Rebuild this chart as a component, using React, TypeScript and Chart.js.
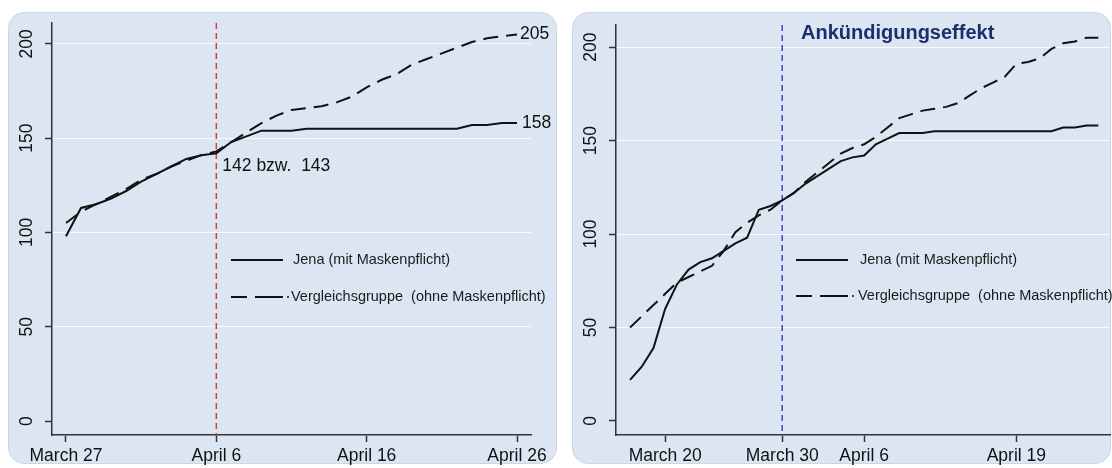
import React, { useEffect, useRef } from "react";
import { Chart, registerables } from "chart.js";

Chart.register(...registerables);

// Jena (mit Maskenpflicht), daily values March 17 .. April 26
const jena = [22, 29, 39, 60, 73, 81, 85, 87, 91, 95, 98, 113, 115, 118, 122, 127, 131, 135, 139, 141, 142, 148, 151, 154, 154, 154, 155, 155, 155, 155, 155, 155, 155, 155, 155, 155, 155, 157, 157, 158, 158];
// Vergleichsgruppe, left panel (March 27 .. April 26)
const groupLeft = [105, 111, 115, 119, 123, 128, 131, 135, 138, 141, 143, 148, 153, 158, 162, 165, 166, 167, 169, 172, 177, 181, 184, 189, 192, 195, 198, 201, 203, 204, 205];
// Vergleichsgruppe, right panel (March 17 .. April 26)
const groupRight = [50, 56, 62, 68, 74, 77, 80, 83, 91, 101, 106, 110, 113, 118, 122, 128, 133, 138, 143, 146, 148, 152, 157, 162, 164, 166, 167, 168, 170, 174, 178, 181, 184, 191, 192, 194, 199, 202, 203, 205, 205];

const leftStartIndex = 10; // March 27 within jena
const leftTickDays = [0, 10, 20, 30];
const leftTickLabels = ["March 27", "April 6", "April 16", "April 26"];
const rightTickDays = [3, 13, 20, 33];
const rightTickLabels = ["March 20", "March 30", "April 6", "April 19"];
const yTicks = [0, 50, 100, 150, 200];
const legendLabels = ["Jena (mit Maskenpflicht)", "Vergleichsgruppe  (ohne Maskenpflicht)"];
const leftNote = "142 bzw.  143";
const leftNoteValue = 135;
const rightTitle = "Ankündigungseffekt";
const leftEventDay = 10;
const rightEventDay = 13;

const FONT = '"Liberation Sans", Arial, Helvetica, sans-serif';
const INK = "#111111";
const AXIS = "#333333";

type PanelOpts = {
  solid: number[];
  dashed: number[];
  xMin: number;
  xMax: number;
  yMin: number;
  yMax: number;
  tickDays: number[];
  tickLabels: string[];
  eventDay: number;
  eventColor: string;
  padding: { top: number; right: number };
  extra: (chart: any) => void;
};

function drawLegend(ctx: CanvasRenderingContext2D, x0: number, x1: number, ySolid: number, yDash: number, textX: number) {
  ctx.save();
  ctx.strokeStyle = INK;
  ctx.lineWidth = 2;
  ctx.beginPath();
  ctx.moveTo(x0, ySolid);
  ctx.lineTo(x1, ySolid);
  ctx.stroke();
  ctx.beginPath();
  ctx.moveTo(x0, yDash);
  ctx.lineTo(x0 + 16, yDash);
  ctx.moveTo(x0 + 24, yDash);
  ctx.lineTo(x1, yDash);
  ctx.stroke();
  ctx.lineWidth = 1.5;
  ctx.beginPath();
  ctx.moveTo(x1 + 4, yDash);
  ctx.lineTo(x1 + 6, yDash);
  ctx.stroke();
  ctx.fillStyle = "#1a1a1a";
  ctx.font = `14.5px ${FONT}`;
  ctx.textAlign = "left";
  ctx.textBaseline = "middle";
  ctx.fillText(legendLabels[0], textX, ySolid);
  ctx.fillText(legendLabels[1], textX - 2, yDash);
  ctx.restore();
}

function makeConfig(o: PanelOpts): any {
  const toPts = (arr: number[]) => arr.map((v, i) => ({ x: i, y: v }));
  const panelPlugin = {
    id: "panelDecor",
    beforeDatasetsDraw(chart: any) {
      const { ctx, chartArea, scales } = chart;
      const x = scales.x.getPixelForValue(o.eventDay);
      ctx.save();
      ctx.strokeStyle = o.eventColor;
      ctx.lineWidth = 1.5;
      ctx.setLineDash([6, 4]);
      ctx.beginPath();
      ctx.moveTo(x, chartArea.top);
      ctx.lineTo(x, chartArea.bottom);
      ctx.stroke();
      ctx.restore();
    },
    afterDraw(chart: any) {
      const { ctx, chartArea, scales } = chart;
      ctx.save();
      ctx.fillStyle = INK;
      ctx.font = `17.5px ${FONT}`;
      yTicks.forEach((v) => {
        const y = scales.y.getPixelForValue(v);
        ctx.save();
        ctx.translate(chartArea.left - 25, y);
        ctx.rotate(-Math.PI / 2);
        ctx.textAlign = "center";
        ctx.textBaseline = "middle";
        ctx.fillText(String(v), 0, 0);
        ctx.restore();
      });
      ctx.textAlign = "center";
      ctx.textBaseline = "middle";
      o.tickDays.forEach((d, i) => {
        ctx.fillText(o.tickLabels[i], scales.x.getPixelForValue(d), chartArea.bottom + 21);
      });
      ctx.restore();
      o.extra(chart);
    },
  };

  return {
    type: "line",
    data: {
      datasets: [
        {
          data: toPts(o.solid),
          borderColor: INK,
          borderWidth: 2,
          pointRadius: 0,
          tension: 0,
          fill: false,
        },
        {
          data: toPts(o.dashed),
          borderColor: INK,
          borderWidth: 2,
          borderDash: [15, 8],
          pointRadius: 0,
          tension: 0,
          fill: false,
        },
      ],
    },
    options: {
      animation: false,
      responsive: false,
      events: [],
      layout: { padding: { left: 0, bottom: 0, top: o.padding.top, right: o.padding.right } },
      plugins: { legend: { display: false }, tooltip: { enabled: false } },
      scales: {
        x: {
          type: "linear",
          min: o.xMin,
          max: o.xMax,
          afterBuildTicks: (s: any) => {
            s.ticks = o.tickDays.map((v) => ({ value: v }));
          },
          afterFit: (s: any) => {
            s.height = 30;
          },
          ticks: { display: false },
          grid: {
            drawOnChartArea: false,
            drawTicks: true,
            tickLength: 7,
            tickColor: AXIS,
            tickWidth: 1.5,
          },
          border: { display: true, color: AXIS, width: 1.5 },
        },
        y: {
          type: "linear",
          min: o.yMin,
          max: o.yMax,
          afterBuildTicks: (s: any) => {
            s.ticks = yTicks.map((v) => ({ value: v }));
          },
          afterFit: (s: any) => {
            s.width = 44;
          },
          ticks: { display: false },
          grid: {
            color: (c: any) => (c.tick && c.tick.value === 0 ? "rgba(0,0,0,0)" : "rgba(250,252,255,0.95)"),
            lineWidth: 1,
            drawTicks: true,
            tickLength: 7,
            tickColor: AXIS,
            tickWidth: 1.5,
          },
          border: { display: true, color: AXIS, width: 1.5 },
        },
      },
    },
    plugins: [panelPlugin],
  };
}

export default function App() {
  const leftRef = useRef<HTMLCanvasElement | null>(null);
  const rightRef = useRef<HTMLCanvasElement | null>(null);

  useEffect(() => {
    const leftSolid = jena.slice(leftStartIndex);
    const left = new Chart(
      leftRef.current as HTMLCanvasElement,
      makeConfig({
        solid: leftSolid,
        dashed: groupLeft,
        xMin: -0.93,
        xMax: 30.93,
        yMin: -7.4,
        yMax: 211.1,
        tickDays: leftTickDays,
        tickLabels: leftTickLabels,
        eventDay: leftEventDay,
        eventColor: "#e0383c",
        padding: { top: 11, right: 26 },
        extra: (chart: any) => {
          const { ctx, scales } = chart;
          const xs = scales.x;
          const ys = scales.y;
          const lastDay = leftSolid.length - 1;
          ctx.save();
          ctx.fillStyle = INK;
          ctx.font = `17.5px ${FONT}`;
          ctx.textAlign = "left";
          ctx.textBaseline = "middle";
          ctx.fillText(String(groupLeft[groupLeft.length - 1]), xs.getPixelForValue(lastDay) + 3, ys.getPixelForValue(groupLeft[groupLeft.length - 1]));
          ctx.fillText(String(leftSolid[lastDay]), xs.getPixelForValue(lastDay) + 5, ys.getPixelForValue(leftSolid[lastDay]));
          ctx.fillText(leftNote, xs.getPixelForValue(leftEventDay) + 6, ys.getPixelForValue(leftNoteValue));
          ctx.restore();
          drawLegend(ctx, 223, 275, 248, 285, 285);
        },
      })
    );
    const right = new Chart(
      rightRef.current as HTMLCanvasElement,
      makeConfig({
        solid: jena,
        dashed: groupRight,
        xMin: -1.2,
        xMax: 41.0,
        yMin: -7.5,
        yMax: 211.8,
        tickDays: rightTickDays,
        tickLabels: rightTickLabels,
        eventDay: rightEventDay,
        eventColor: "#4646c8",
        padding: { top: 13, right: 2 },
        extra: (chart: any) => {
          const { ctx } = chart;
          ctx.save();
          ctx.fillStyle = "#1b2f6e";
          ctx.font = `bold 20px ${FONT}`;
          ctx.textAlign = "left";
          ctx.textBaseline = "middle";
          ctx.fillText(rightTitle, 229, 21);
          ctx.restore();
          drawLegend(ctx, 224, 276, 248, 284, 288);
        },
      })
    );
    return () => {
      left.destroy();
      right.destroy();
    };
  }, []);

  const panel: React.CSSProperties = {
    position: "absolute",
    top: 12,
    height: 452,
    background: "#dce6f2",
    borderRadius: 16,
    border: "1px solid #cdd6e1",
    boxSizing: "border-box",
  };

  return (
    <div style={{ position: "fixed", left: 0, top: 0, width: 1112, height: 468, background: "#ffffff", overflow: "hidden" }}>
      <div style={{ ...panel, left: 8, width: 549 }} />
      <div style={{ ...panel, left: 572, width: 539 }} />
      <canvas ref={leftRef} width={549} height={453} style={{ position: "absolute", left: 8, top: 12, width: 549, height: 453 }} />
      <canvas ref={rightRef} width={540} height={453} style={{ position: "absolute", left: 572, top: 12, width: 540, height: 453 }} />
    </div>
  );
}
